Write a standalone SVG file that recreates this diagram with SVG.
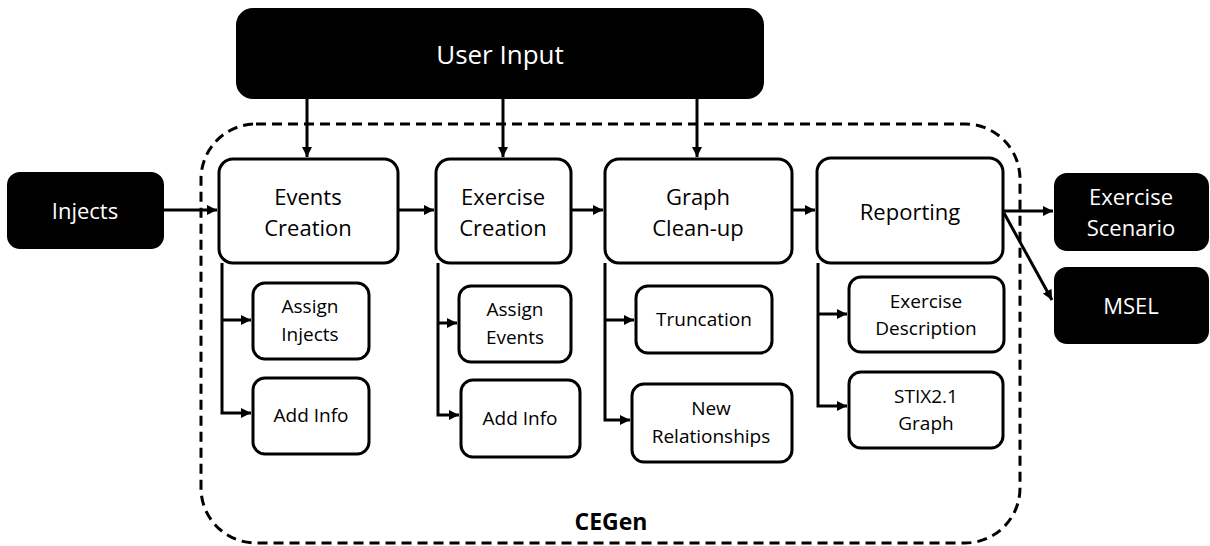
<svg xmlns="http://www.w3.org/2000/svg" width="1210" height="546" viewBox="0 0 1210 546">
<style>
.dark{fill:#000;stroke:#000;stroke-width:2}
.box{fill:#fff;stroke:#000;stroke-width:3}
.wt{fill:#fff;font-family:"Open Sans",sans-serif;text-anchor:middle}
.bt{fill:#000;font-family:"Open Sans",sans-serif;text-anchor:middle}
.main{font-size:22px}
.sub{font-size:19px}
.c{fill:none;stroke:#000;stroke-width:3}
</style>
<defs>
<marker id="ah" viewBox="0 0 10 10" refX="10" refY="5" markerWidth="10" markerHeight="10" markerUnits="userSpaceOnUse" orient="auto">
<path d="M0,0 L10,5 L0,10 Z" fill="#000"/>
</marker>
</defs>
<rect x="0" y="0" width="1210" height="546" fill="#fff"/>
<g id="cegen">
<rect x="201" y="124" width="819" height="419" rx="55" fill="none" stroke="#000" stroke-width="3" stroke-dasharray="10,6"/>
<text x="611" y="530" class="bt" style="font-size:23px;font-weight:bold">CEGen</text>
</g>
<g id="connectors">
<line class="c" x1="307" y1="99" x2="307" y2="157" marker-end="url(#ah)"/>
<line class="c" x1="503" y1="99" x2="503" y2="157" marker-end="url(#ah)"/>
<line class="c" x1="697" y1="99" x2="697" y2="157" marker-end="url(#ah)"/>
<line class="c" x1="164" y1="210" x2="217" y2="210" marker-end="url(#ah)"/>
<line class="c" x1="398" y1="210" x2="434" y2="210" marker-end="url(#ah)"/>
<line class="c" x1="571" y1="210" x2="603" y2="210" marker-end="url(#ah)"/>
<line class="c" x1="792" y1="210" x2="815" y2="210" marker-end="url(#ah)"/>
<line class="c" x1="1003" y1="211" x2="1053" y2="211" marker-end="url(#ah)"/>
<line class="c" x1="1004" y1="213" x2="1052" y2="300" marker-end="url(#ah)"/>
<polyline class="c" points="222,263 222,413 251,413" marker-end="url(#ah)"/>
<polyline class="c" points="222,320 251,320" marker-end="url(#ah)"/>
<polyline class="c" points="438,263 438,415 459,415" marker-end="url(#ah)"/>
<polyline class="c" points="438,323 457,323" marker-end="url(#ah)"/>
<polyline class="c" points="605,263 605,420 630,420" marker-end="url(#ah)"/>
<polyline class="c" points="605,320 634,320" marker-end="url(#ah)"/>
<polyline class="c" points="818,263 818,406 847,406" marker-end="url(#ah)"/>
<polyline class="c" points="818,314 847,314" marker-end="url(#ah)"/>
</g>
<g id="user-input">
<rect class="dark" x="237" y="9" width="526" height="89" rx="16"/>
<text x="500" y="64" class="wt" style="font-size:26px">User Input</text>
</g>
<g id="injects">
<rect class="dark" x="8" y="173" width="155" height="75" rx="12"/>
<text x="85" y="219" class="wt main">Injects</text>
</g>
<g id="exercise-scenario">
<rect class="dark" x="1055" y="174" width="153" height="76" rx="12"/>
<text x="1131" y="205" class="wt main">Exercise</text>
<text x="1131" y="236" class="wt main">Scenario</text>
</g>
<g id="msel">
<rect class="dark" x="1055" y="268" width="153" height="75" rx="12"/>
<text x="1131" y="314" class="wt main">MSEL</text>
</g>
<g id="events-creation">
<rect class="box" x="219" y="159" width="179" height="104" rx="14"/>
<text x="308" y="205" class="bt main">Events</text>
<text x="308" y="236" class="bt main">Creation</text>
</g>
<g id="exercise-creation">
<rect class="box" x="436" y="159" width="135" height="104" rx="14"/>
<text x="503" y="205" class="bt main">Exercise</text>
<text x="503" y="236" class="bt main">Creation</text>
</g>
<g id="graph-cleanup">
<rect class="box" x="605" y="159" width="187" height="104" rx="14"/>
<text x="698" y="205" class="bt main">Graph</text>
<text x="698" y="236" class="bt main">Clean-up</text>
</g>
<g id="reporting">
<rect class="box" x="817" y="158" width="186" height="105" rx="14"/>
<text x="910" y="220" class="bt main">Reporting</text>
</g>
<g id="assign-injects">
<rect class="box" x="253" y="283" width="116" height="76" rx="12"/>
<text x="310" y="313" class="bt sub">Assign</text>
<text x="310" y="341" class="bt sub">Injects</text>
</g>
<g id="add-info-1">
<rect class="box" x="253" y="378" width="116" height="76" rx="12"/>
<text x="311" y="422" class="bt sub">Add Info</text>
</g>
<g id="assign-events">
<rect class="box" x="459" y="286" width="112" height="76" rx="12"/>
<text x="515" y="316" class="bt sub">Assign</text>
<text x="515" y="344" class="bt sub">Events</text>
</g>
<g id="add-info-2">
<rect class="box" x="461" y="380" width="119" height="77" rx="12"/>
<text x="520" y="425" class="bt sub">Add Info</text>
</g>
<g id="truncation">
<rect class="box" x="636" y="286" width="136" height="67" rx="12"/>
<text x="704" y="326" class="bt sub">Truncation</text>
</g>
<g id="new-relationships">
<rect class="box" x="632" y="384" width="160" height="78" rx="12"/>
<text x="711" y="415" class="bt sub">New</text>
<text x="711" y="443" class="bt sub">Relationships</text>
</g>
<g id="exercise-description">
<rect class="box" x="849" y="277" width="155" height="75" rx="12"/>
<text x="926" y="308" class="bt sub">Exercise</text>
<text x="926" y="335" class="bt sub">Description</text>
</g>
<g id="stix-graph">
<rect class="box" x="849" y="372" width="154" height="76" rx="12"/>
<text x="926" y="403" class="bt sub">STIX2.1</text>
<text x="926" y="430" class="bt sub">Graph</text>
</g>
</svg>
